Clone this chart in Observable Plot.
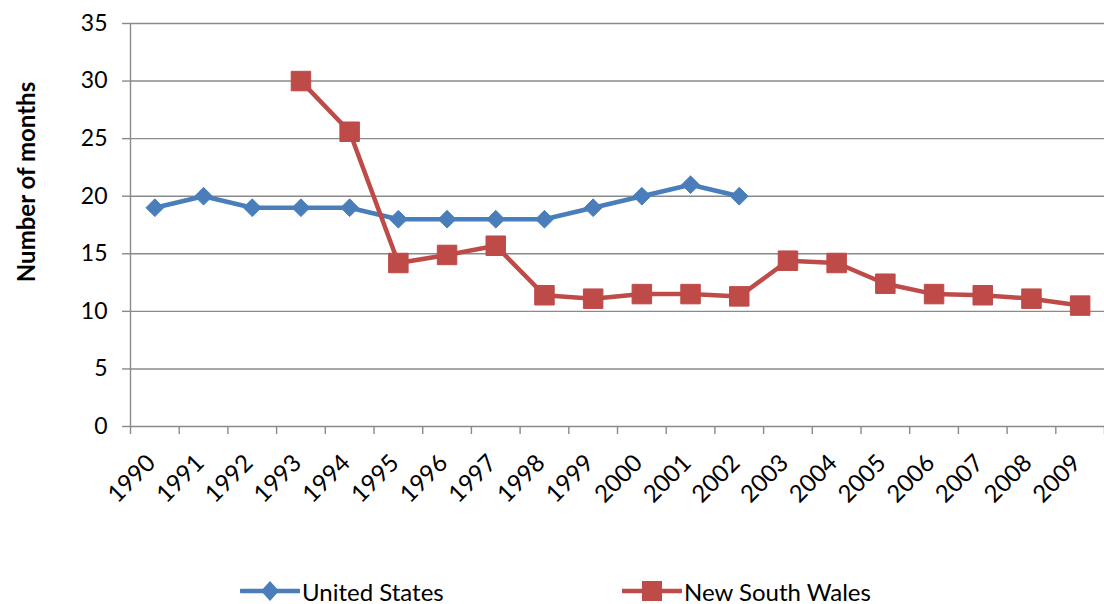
<!DOCTYPE html>
<html><head><meta charset="utf-8">
<script src="https://cdn.jsdelivr.net/npm/d3@7"></script>
<script src="https://cdn.jsdelivr.net/npm/@observablehq/plot@0.6"></script>
<style>
body{margin:0;background:#fff;font-family:Lato,"Open Sans",sans-serif;}
#wrap{position:relative;width:1104px;height:604px;}
#legend{position:absolute;left:0;top:578px;width:1104px;height:26px;font-size:24px;color:#000;}
.item{position:absolute;top:0;display:flex;align-items:center;height:26px;}
.item svg{display:block;}
</style>
</head><body>
<div id="wrap"><div id="chart"></div><div id="legend"></div></div>
<script>
const years = [1990,1991,1992,1993,1994,1995,1996,1997,1998,1999,2000,2001,2002,2003,2004,2005,2006,2007,2008,2009];
const usYears = [1990,1991,1992,1993,1994,1995,1996,1997,1998,1999,2000,2001,2002];
const usValues = [19,20,19,19,19,18,18,18,18,19,20,21,20];
const nswYears = [1993,1994,1995,1996,1997,1998,1999,2000,2001,2002,2003,2004,2005,2006,2007,2008,2009];
const nswValues = [30,25.6,14.2,14.9,15.7,11.4,11.1,11.5,11.5,11.3,14.4,14.2,12.4,11.5,11.4,11.1,10.5];
const yTicks = [0,5,10,15,20,25,30,35];
const seriesNames = ["United States","New South Wales"];
const seriesColors = ["#4a7ebb","#be4b48"];

const us = usYears.map((y,i)=>({year:y, value:usValues[i]}));
const nsw = nswYears.map((y,i)=>({year:y, value:nswValues[i]}));
const boundaries = [...years.map(y=>y-0.5), years[years.length-1]+0.5];

const grid = "#8a8a8a";
const chart = Plot.plot({
  width:1104, height:560,
  marginLeft:130, marginRight:0, marginTop:23, marginBottom:134,
  style:{fontFamily:"Lato, 'Open Sans', sans-serif", fontSize:"23px", color:"#000", background:"#fff"},
  x:{type:"linear", domain:[1989.5,2009.5], axis:null},
  y:{domain:[0,35], axis:null},
  marks:[
    Plot.ruleY(yTicks, {stroke:grid, strokeWidth:1.4}),
    Plot.ruleX([1989.5], {stroke:grid, strokeWidth:1.4}),
    Plot.axisY({ticks:yTicks, tickSize:8, tickFormat:()=>"", stroke:grid, strokeWidth:1.4, label:null}),
    Plot.axisX({ticks:boundaries, tickSize:8, tickFormat:()=>"", stroke:grid, strokeWidth:1.4, label:null}),
    Plot.text(yTicks, {y:d=>d, text:d=>String(d), frameAnchor:"left", dx:-23, textAnchor:"end", fontSize:23, fill:"#000"}),
    Plot.text(years, {x:d=>d, text:d=>String(d), frameAnchor:"bottom", dx:2, dy:38, rotate:-45, textAnchor:"end", fontSize:24, fill:"#000"}),
    Plot.text(["Number of months"], {frameAnchor:"left", dx:-103, dy:-43, rotate:-90, fontWeight:"bold", fontSize:24, textAnchor:"middle"}),
    Plot.line(us, {x:"year", y:"value", stroke:seriesColors[0], strokeWidth:4.5}),
    Plot.dot(us, {x:"year", y:"value", symbol:"diamond2", r:8, fill:seriesColors[0], stroke:seriesColors[0], strokeWidth:1}),
    Plot.line(nsw, {x:"year", y:"value", stroke:seriesColors[1], strokeWidth:4.5}),
    Plot.dot(nsw, {x:"year", y:"value", symbol:"square", r:11, fill:seriesColors[1], stroke:seriesColors[1], strokeWidth:1})
  ]
});
document.getElementById("chart").appendChild(chart);

const legend = document.getElementById("legend");
const lefts = [240, 622];
seriesNames.forEach((name,i)=>{
  const div = document.createElement("div");
  div.className = "item";
  div.style.left = lefts[i]+"px";
  const c = seriesColors[i];
  const marker = i===0
    ? `<path d="M30,3 L39,13 L30,23 L21,13 Z" fill="${c}"/>`
    : `<rect x="20" y="3" width="20" height="20" fill="${c}"/>`;
  div.innerHTML = `<svg width="60" height="26"><line x1="1" y1="13" x2="59" y2="13" stroke="${c}" stroke-width="4.5" stroke-linecap="round"/>${marker}</svg><span style="margin-left:2px">${name}</span>`;
  legend.appendChild(div);
});
</script>
</body></html>
